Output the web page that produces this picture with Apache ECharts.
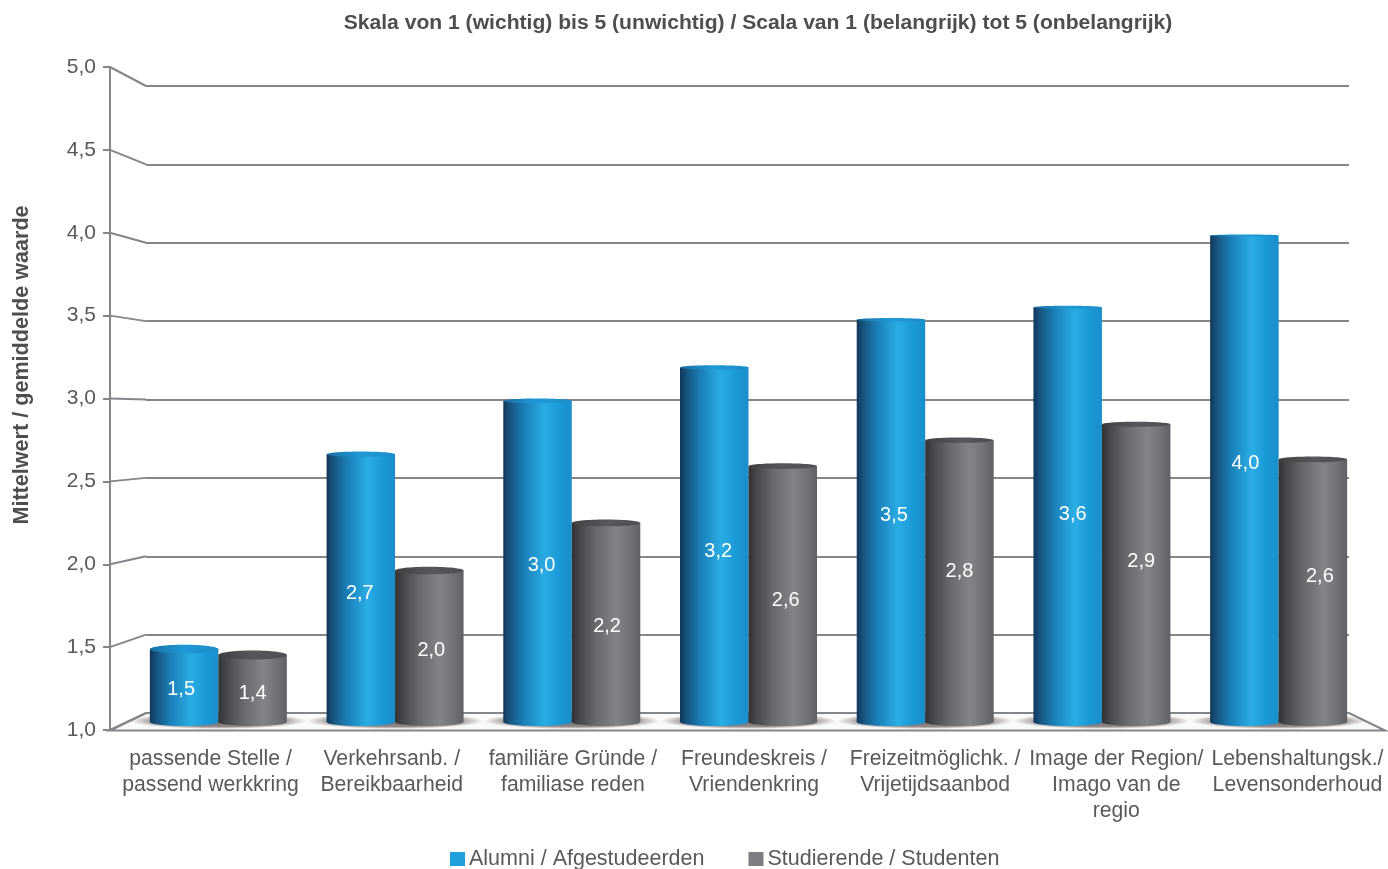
<!DOCTYPE html>
<html><head><meta charset="utf-8">
<style>html,body{margin:0;padding:0;background:#fff;overflow:hidden}#c{width:1388px;height:869px}</style>
<script src="https://cdn.jsdelivr.net/npm/echarts@6/dist/echarts.min.js"></script>
</head><body><div id="c"></div>
<script>
const categories = ['passende Stelle /\npassend werkkring','Verkehrsanb. /\nBereikbaarheid','familiäre Gründe /\nfamiliase reden','Freundeskreis /\nVriendenkring','Freizeitmöglichk. /\nVrijetijdsaanbod','Image der Region/\nImago van de\nregio','Lebenshaltungsk./\nLevensonderhoud'];
const alumniValues = [1.515,2.68,3.0,3.2,3.485,3.56,3.99];
const studentValues = [1.48,1.985,2.27,2.61,2.765,2.86,2.65];
const alumniLabels = ['1,5','2,7','3,0','3,2','3,5','3,6','4,0'];
const studentLabels = ['1,4','2,0','2,2','2,6','2,8','2,9','2,6'];
const tickValues = [1,1.5,2,2.5,3,3.5,4,4.5,5];

const F = '"Liberation Sans", Arial, sans-serif';
const TXT = '#58595b', LINE = '#85868a';
const frontX = 110, backX = 146, backRight = 1349, backTop = 86, backH = 627, floorRight = 1385;
const alumniNudge = [[-3,4],[-1,5],[4,3],[4,6],[3,-7],[5,-1],[1,-17]];
const studentNudge = [[0,5],[2,4],[1,4],[3,6],[0,-10],[5,-12],[7,-15]];
const BAR_W = 68.5, BASE = 1.024;

function grad(stops){return {type:'linear',x:0,y:0,x2:1,y2:0,colorStops:stops.map(s=>({offset:s[0],color:s[1]}))};}
const blueBody = grad([[0,'#12365a'],[0.1,'#17557f'],[0.3,'#1a7fb8'],[0.6,'#2aade4'],[0.8,'#1b9ad8'],[1,'#1a8ecb']]);
const greyBody = grad([[0,'#313234'],[0.12,'#47484b'],[0.35,'#67686c'],[0.65,'#838488'],[0.85,'#727377'],[1,'#606165']]);
const blueTop = grad([[0,'#1a6fa3'],[0.5,'#1f9ad6'],[1,'#1b8cc8']]);
const greyTop = grad([[0,'#3f4042'],[0.5,'#56575a'],[1,'#4e4f52']]);
const shadowFill = {type:'radial',x:0.5,y:0.5,r:0.5,colorStops:[{offset:0,color:'rgba(90,78,78,0.85)'},{offset:0.7,color:'rgba(90,78,78,0.65)'},{offset:1,color:'rgba(90,78,78,0)'}]};

function capRy(y){return Math.max(1, 1 + 3.5*(y-236)/412);}

function barRender(side, body, top, labels, nudge){
  return function(params, api){
    const i = api.value(0), v = api.value(1);
    const p = api.coord([i, v]), b = api.coord([i, BASE]);
    const cx = p[0] + side*BAR_W/2, x = cx - BAR_W/2, ry = capRy(p[1]);
    const n = nudge[i];
    return {type:'group',children:[
      {type:'ellipse',shape:{cx:cx,cy:b[1]-4,rx:BAR_W/2,ry:4},style:{fill:body}},
      {type:'rect',shape:{x:x,y:p[1]+ry,width:BAR_W,height:b[1]-4-p[1]-ry},style:{fill:body}},
      {type:'ellipse',shape:{cx:cx,cy:p[1]+ry,rx:BAR_W/2,ry:ry},style:{fill:top}},
      {type:'text',style:{text:labels[i],x:cx+n[0],y:(p[1]+b[1])/2+n[1],fill:'#fff',font:'20px '+F,align:'center',verticalAlign:'middle'}}
    ]};
  };
}

const chart = echarts.init(document.getElementById('c'),null,{renderer:'canvas'});
chart.setOption({
  animation:false,
  backgroundColor:'#fff',
  title:{text:'Skala von 1 (wichtig) bis 5 (unwichtig) / Scala van 1 (belangrijk) tot 5 (onbelangrijk)',left:753,top:8,textAlign:'center',textStyle:{fontFamily:F,fontSize:21.1,fontWeight:'bold',color:'#4d4e50'}},
  graphic:[{type:'text',x:22,y:365,rotation:Math.PI/2,style:{text:'Mittelwert / gemiddelde waarde',fill:'#4d4e50',font:'bold 21.6px '+F,align:'center',verticalAlign:'middle'}}],
  legend:{data:['Alumni / Afgestudeerden','Studierende / Studenten'],left:450,top:848,itemWidth:15,itemHeight:14,itemGap:44,icon:'rect',padding:0,textStyle:{fontFamily:F,fontSize:21.5,color:TXT,padding:[2,0,0,-1]}},
  grid:[
    {left:130,width:1237,top:67,height:663},
    {left:backX,width:backRight-backX,top:backTop,height:backH},
    {left:120,width:1272,top:67,height:663}
  ],
  xAxis:[
    {gridIndex:0,type:'category',data:categories,show:false},
    {gridIndex:1,type:'category',data:categories,show:false},
    {gridIndex:2,type:'category',data:categories,axisLine:{show:false},axisTick:{show:false},
     axisLabel:{interval:0,margin:16,fontFamily:F,fontSize:21.2,lineHeight:26,color:TXT,align:'center'}}
  ],
  yAxis:[
    {gridIndex:0,type:'value',min:1,max:5,interval:0.5,offset:20,
     axisLine:{show:true,lineStyle:{color:LINE,width:2}},axisTick:{show:true,length:7,lineStyle:{color:LINE,width:2}},splitLine:{show:false},
     axisLabel:{margin:14,padding:[4,0,0,0],fontFamily:F,fontSize:21,color:TXT,formatter:v=>v.toFixed(1).replace('.',',')}},
    {gridIndex:1,type:'value',min:1,max:5,interval:0.5,axisLine:{show:false},axisTick:{show:false},axisLabel:{show:false},
     splitLine:{show:true,lineStyle:{color:LINE,width:2}}},
    {gridIndex:2,type:'value',min:1,max:5,show:false,splitLine:{show:false}}
  ],
  series:[
    {type:'custom',name:'floor',silent:true,z:1,xAxisIndex:1,yAxisIndex:1,data:[[0,1]],
     renderItem:function(params,api){
       const back = api.coord([0,1])[1], front = back+17.5;
       return {type:'polygon',shape:{points:[[frontX,front],[backX,back],[backRight,back],[floorRight,front]]},
         style:{fill:'#fbfafa',stroke:LINE,lineWidth:2}};
     }},
    {type:'custom',name:'wall',silent:true,z:2,xAxisIndex:0,yAxisIndex:0,data:tickValues.map(v=>[0,v]),
     renderItem:function(params,api){
       const v = api.value(1);
       return {type:'line',shape:{x1:frontX,y1:api.coord([0,v])[1],x2:backX,y2:backTop+(5-v)/4*backH},
         style:{stroke:LINE,lineWidth:2}};
     }},
    {type:'custom',name:'shadow',silent:true,z:3,xAxisIndex:0,yAxisIndex:0,data:categories.map((c,i)=>[i,1]),
     renderItem:function(params,api){
       const p = api.coord([api.value(0),1]);
       return {type:'circle',x:p[0],y:p[1]-9,scaleX:11,shape:{cx:0,cy:0,r:8},style:{fill:shadowFill}};
     }},
    {type:'custom',name:'Alumni / Afgestudeerden',z:5,xAxisIndex:0,yAxisIndex:0,itemStyle:{color:'#1fa0dc'},
     data:alumniValues.map((v,i)=>[i,v]),renderItem:barRender(-1,blueBody,blueTop,alumniLabels,alumniNudge)},
    {type:'custom',name:'Studierende / Studenten',z:5,xAxisIndex:0,yAxisIndex:0,itemStyle:{color:'#7d7e82'},
     data:studentValues.map((v,i)=>[i,v]),renderItem:barRender(1,greyBody,greyTop,studentLabels,studentNudge)}
  ]
});
</script></body></html>
